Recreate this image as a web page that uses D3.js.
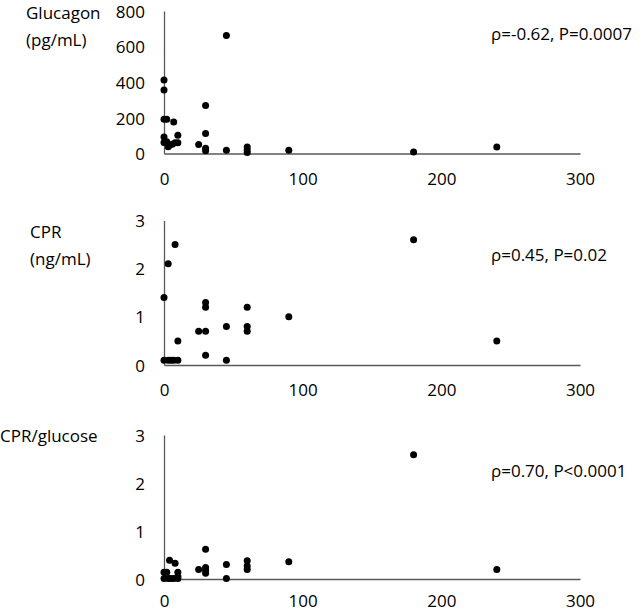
<!DOCTYPE html>
<html>
<head>
<meta charset="utf-8">
<script src="https://cdn.jsdelivr.net/npm/d3@7"></script>
<style>
  body { margin: 0; background: #fff; }
  text { font-family: "Open Sans", sans-serif; }
</style>
</head>
<body>
<script>
// time axis (shared)
var xTicks = [0, 100, 200, 300];

// glucagon panel
var glucX = [0, 0, 0, 2, 7, 0, 0, 2, 3, 4, 6, 8, 10, 10, 25, 30, 30, 30, 30, 45, 45, 60, 60, 60, 90, 180, 240];
var glucY = [412, 357, 192, 192, 177, 93, 62, 66, 38, 47, 52, 60, 60, 103, 51, 269, 112, 29, 16, 662, 18, 36, 19, 5, 18, 8, 36];
var glucTicks = [0, 200, 400, 600, 800];

// CPR panel
var cprX = [0, 3, 8, 0, 3, 5, 7, 10, 10, 25, 30, 30, 30, 30, 45, 45, 60, 60, 60, 90, 180, 240];
var cprY = [1.4, 2.1, 2.5, 0.1, 0.1, 0.1, 0.1, 0.1, 0.5, 0.7, 0.7, 1.3, 1.2, 0.2, 0.8, 0.1, 1.2, 0.8, 0.7, 1.0, 2.6, 0.5];
var cprTicks = [0, 1, 2, 3];

// CPR/glucose panel
var ratioX = [4, 8, 0, 2, 0, 3, 5, 7, 10, 10, 10, 25, 30, 30, 30, 30, 45, 45, 60, 60, 60, 90, 180, 240];
var ratioY = [0.39, 0.33, 0.14, 0.14, 0.01, 0.01, 0.01, 0.01, 0.01, 0.14, 0.05, 0.2, 0.62, 0.24, 0.18, 0.12, 0.3, 0.01, 0.38, 0.27, 0.2, 0.36, 2.59, 0.2];
var ratioTicks = [0, 1, 2, 3];

var panels = [
  {x: glucX, y: glucY, ticks: glucTicks, label: ["Glucagon", "(pg/mL)"], labelX: 26, labelY: 19,
   stat: "\u03c1=-0.62, P=0.0007", statY: 40, top: 11, bottom: 153.5},
  {x: cprX, y: cprY, ticks: cprTicks, label: ["CPR", "(ng/mL)"], labelX: 30, labelY: 238,
   stat: "\u03c1=0.45, P=0.02", statY: 261, top: 220.5, bottom: 365},
  {x: ratioX, y: ratioY, ticks: ratioTicks, label: ["CPR/glucose"], labelX: 0, labelY: 442,
   stat: "\u03c1=0.70, P<0.0001", statY: 477, top: 435, bottom: 579}
];

var width = 644, height = 613;
var fontSize = "17px";
var svg = d3.select("body").append("svg")
  .attr("width", width)
  .attr("height", height);

var xScale = d3.scaleLinear().domain([0, 300]).range([164, 580]);

panels.forEach(function(p, k) {
  var yMax = p.ticks[p.ticks.length - 1];
  var yScale = d3.scaleLinear().domain([0, yMax]).range([p.bottom, p.top]);

  var xAxis = svg.append("g")
    .attr("transform", "translate(0," + p.bottom + ")")
    .call(d3.axisBottom(xScale).tickValues(xTicks).tickFormat(d3.format("d")).tickSize(0)
      .tickPadding(k == 2 ? 16 : 19));
  var yAxis = svg.append("g")
    .attr("transform", "translate(164,0)")
    .call(d3.axisLeft(yScale).tickValues(p.ticks).tickFormat(d3.format("d")).tickSize(0).tickPadding(19));

  [xAxis, yAxis].forEach(function(a) {
    a.select(".domain").attr("stroke", "#595959").attr("stroke-width", 1.3);
    a.selectAll("text").attr("fill", "#000").style("font-size", fontSize)
      .style("font-family", "'Open Sans', sans-serif");
  });
  yAxis.selectAll("text").attr("dy", "0.36em");

  var dots = p.x.map(function(v, i) { return [v, p.y[i]]; });
  svg.append("g").selectAll("circle").data(dots).enter()
    .append("circle")
    .attr("cx", function(d) { return xScale(d[0]); })
    .attr("cy", function(d) { return yScale(d[1]); })
    .attr("r", 3.5)
    .attr("fill", "#000");

  p.label.forEach(function(t, i) {
    svg.append("text")
      .attr("x", p.labelX)
      .attr("y", p.labelY + i * 27)
      .style("font-size", fontSize)
      .text(t);
  });

  svg.append("text")
    .attr("x", 491)
    .attr("y", p.statY)
    .style("font-size", fontSize)
    .text(p.stat);
});
</script>
</body>
</html>
